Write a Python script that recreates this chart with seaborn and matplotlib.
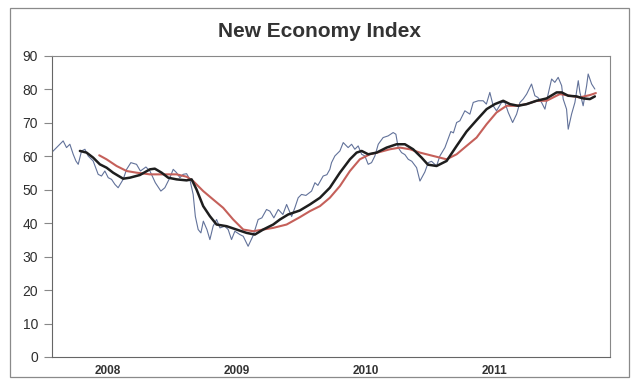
import matplotlib
matplotlib.use("Agg")
import matplotlib.pyplot as plt
from matplotlib.patches import Rectangle
import numpy as np
import pandas as pd
import seaborn as sns

# weekly index (decimal years)
weekly_t = [
    2008.060, 2008.150, 2008.176, 2008.202, 2008.228, 2008.249, 2008.267, 2008.293,
    2008.319, 2008.344, 2008.383, 2008.422, 2008.448, 2008.474, 2008.500, 2008.526,
    2008.552, 2008.577, 2008.616, 2008.643, 2008.676, 2008.720, 2008.750, 2008.793,
    2008.824, 2008.866, 2008.909, 2008.940, 2008.979, 2009.005, 2009.031, 2009.057,
    2009.082, 2009.109, 2009.134, 2009.160, 2009.177, 2009.199, 2009.220, 2009.239,
    2009.267, 2009.290, 2009.315, 2009.342, 2009.368, 2009.406, 2009.432, 2009.458,
    2009.484, 2009.523, 2009.549, 2009.587, 2009.626, 2009.665, 2009.694, 2009.730,
    2009.756, 2009.787, 2009.821, 2009.857, 2009.886, 2009.925, 2009.950, 2009.976,
    2010.002, 2010.036, 2010.080, 2010.106, 2010.129, 2010.170, 2010.199, 2010.222,
    2010.235, 2010.261, 2010.300, 2010.326, 2010.364, 2010.391, 2010.416, 2010.442,
    2010.469, 2010.494, 2010.520, 2010.546, 2010.572, 2010.598, 2010.636, 2010.675,
    2010.714, 2010.735, 2010.753, 2010.779, 2010.805, 2010.831, 2010.859, 2010.896,
    2010.922, 2010.960, 2010.986, 2011.012, 2011.051, 2011.077, 2011.116, 2011.139,
    2011.162, 2011.182, 2011.207, 2011.232, 2011.271, 2011.291, 2011.310, 2011.336,
    2011.375, 2011.413, 2011.438, 2011.465, 2011.491, 2011.517, 2011.556, 2011.582,
    2011.608, 2011.642, 2011.673, 2011.699, 2011.724, 2011.751, 2011.789, 2011.815,
    2011.838, 2011.867, 2011.893, 2011.918, 2011.945, 2011.970, 2011.996, 2012.023,
    2012.035, 2012.061, 2012.074, 2012.100, 2012.126, 2012.152, 2012.165, 2012.190,
    2012.217, 2012.229, 2012.256, 2012.281,
]
weekly_v = [
    61.1, 64.6, 62.6, 63.6, 60.6, 58.6, 57.6, 61.6,
    62.1, 60.1, 58.6, 54.6, 54.1, 55.6, 53.6, 53.1,
    51.6, 50.6, 53.1, 56.1, 58.1, 57.6, 55.6, 56.8,
    55.6, 52.1, 49.6, 50.6, 53.6, 56.1, 55.1, 53.6,
    54.6, 54.8, 53.1, 48.6, 42.0, 38.1, 37.1, 40.6,
    38.1, 35.1, 39.1, 41.1, 38.6, 39.1, 38.1, 35.1,
    37.6, 36.6, 36.1, 33.1, 36.3, 41.1, 41.6, 44.1,
    43.6, 41.6, 44.1, 42.6, 45.6, 42.0, 44.6, 47.6,
    48.6, 48.3, 49.6, 52.1, 51.3, 54.1, 54.5, 56.1,
    58.1, 60.1, 61.6, 64.1, 62.6, 63.6, 62.1, 63.1,
    60.6, 60.1, 57.6, 58.1, 60.1, 63.6, 65.6, 66.1,
    67.1, 66.6, 62.6, 61.1, 60.5, 59.1, 58.5, 56.6,
    52.6, 55.3, 58.1, 58.5, 57.1, 60.1, 62.6, 65.0,
    67.4, 67.0, 70.1, 70.6, 73.6, 73.1, 72.6, 76.1,
    76.6, 76.6, 75.6, 79.1, 75.1, 73.6, 76.1, 76.1,
    73.1, 70.1, 72.6, 76.1, 77.1, 78.6, 81.6, 78.1,
    77.6, 76.1, 74.1, 78.6, 83.1, 82.1, 83.6, 81.1,
    77.1, 74.1, 68.1, 72.6, 76.1, 82.6, 79.1, 75.1,
    81.1, 84.6, 81.6, 80.1,
]

# short moving average (black)
short_t = [
    2008.280, 2008.332, 2008.383, 2008.435, 2008.487, 2008.538, 2008.616, 2008.668,
    2008.746, 2008.824, 2008.862, 2008.915, 2008.966, 2009.031, 2009.109, 2009.148,
    2009.186, 2009.238, 2009.290, 2009.342, 2009.420, 2009.497, 2009.575, 2009.639,
    2009.704, 2009.782, 2009.834, 2009.898, 2009.989, 2010.067, 2010.145, 2010.222,
    2010.300, 2010.378, 2010.430, 2010.469, 2010.520, 2010.585, 2010.663, 2010.741,
    2010.805, 2010.869, 2010.935, 2010.984, 2011.051, 2011.129, 2011.207, 2011.284,
    2011.362, 2011.440, 2011.504, 2011.569, 2011.621, 2011.685, 2011.751, 2011.828,
    2011.906, 2011.984, 2012.023, 2012.074, 2012.139, 2012.190, 2012.242, 2012.281,
]
short_v = [
    61.6, 61.1, 59.6, 57.6, 56.6, 55.1, 53.3, 53.6,
    54.4, 56.1, 56.3, 55.1, 53.6, 53.1, 52.8, 53.1,
    50.1, 45.1, 42.1, 39.6, 39.1, 38.1, 37.1, 36.6,
    38.1, 39.6, 41.1, 42.6, 43.8, 45.6, 47.6, 50.6,
    55.1, 59.1, 61.1, 61.6, 60.6, 61.1, 62.6, 63.6,
    63.6, 62.1, 59.6, 57.5, 57.1, 58.6, 63.1, 67.4,
    70.8, 74.1, 75.6, 76.6, 75.6, 75.1, 75.6, 76.6,
    77.3, 79.1, 79.1, 78.1, 77.9, 77.3, 77.1, 77.9,
]

# long moving average (red)
long_t = [
    2008.430, 2008.487, 2008.565, 2008.643, 2008.720, 2008.824, 2008.927, 2009.031,
    2009.109, 2009.160, 2009.238, 2009.315, 2009.393, 2009.471, 2009.549, 2009.626,
    2009.704, 2009.782, 2009.886, 2009.989, 2010.067, 2010.145, 2010.222, 2010.300,
    2010.378, 2010.455, 2010.533, 2010.611, 2010.689, 2010.766, 2010.844, 2010.922,
    2011.025, 2011.129, 2011.207, 2011.284, 2011.362, 2011.440, 2011.517, 2011.595,
    2011.673, 2011.751, 2011.828, 2011.906, 2012.009, 2012.087, 2012.165, 2012.242,
    2012.289,
]
long_v = [
    60.3, 59.1, 57.1, 55.6, 55.1, 54.6, 54.6, 54.6,
    53.9, 52.6, 49.6, 47.1, 44.6, 41.1, 38.1, 37.6,
    38.1, 38.6, 39.6, 41.8, 43.6, 45.1, 47.6, 51.1,
    55.6, 59.1, 60.6, 61.3, 62.1, 62.6, 62.1, 61.1,
    60.1, 59.1, 60.6, 63.1, 65.6, 69.6, 73.1, 75.1,
    75.1, 75.6, 76.6, 76.6, 78.6, 78.1, 77.6, 78.3,
    78.9,
]

years = [2008, 2009, 2010, 2011]
y_ticks = list(range(0, 100, 10))

sns.set_theme(style="white")
plt.rcParams["font.family"] = ["Liberation Sans", "DejaVu Sans"]

fig = plt.figure(figsize=(6.4, 3.92), dpi=100)
fig.patches.append(Rectangle((0.016, 0.038), 0.967, 0.942, transform=fig.transFigure,
                             fill=False, edgecolor="#8a8a8a", linewidth=0.9))
ax = fig.add_axes([0.081, 0.0893, 0.872, 0.768])

weekly = pd.DataFrame({"t": weekly_t, "v": weekly_v})
short = pd.DataFrame({"t": short_t, "v": short_v})
long_ = pd.DataFrame({"t": long_t, "v": long_v})

sns.lineplot(data=weekly, x="t", y="v", ax=ax, color="#62729a", linewidth=0.8, estimator=None)
sns.lineplot(data=long_, x="t", y="v", ax=ax, color="#c5605a", linewidth=1.5, estimator=None)
sns.lineplot(data=short, x="t", y="v", ax=ax, color="#1e1e1e", linewidth=1.8, estimator=None)

ax.set_xlim(2008.062, 2012.398)
ax.set_ylim(0, 90)
ax.set_yticks(y_ticks)
ax.set_yticklabels([str(v) for v in y_ticks], fontsize=10, color="#2e2e2e")
ax.set_xticks([y + 0.5 for y in years])
ax.set_xticklabels([str(y) for y in years], fontsize=8.5, fontweight="bold", color="#333333")
ax.tick_params(axis="x", length=0, pad=6)
ax.tick_params(axis="y", left=True, length=6, width=0.8, color="#888888", pad=4)
ax.set_xlabel("")
ax.set_ylabel("")
for name, sp in ax.spines.items():
    sp.set_color("#888888")
    sp.set_linewidth(0.8)
ax.spines["left"].set_color("#666666")
ax.spines["bottom"].set_color("#666666")

fig.text(0.5, 0.92, "New Economy Index", ha="center", va="center",
         fontsize=15, fontweight="bold", color="#333333")

fig.savefig("out.png", dpi=100)
plt.close(fig)
